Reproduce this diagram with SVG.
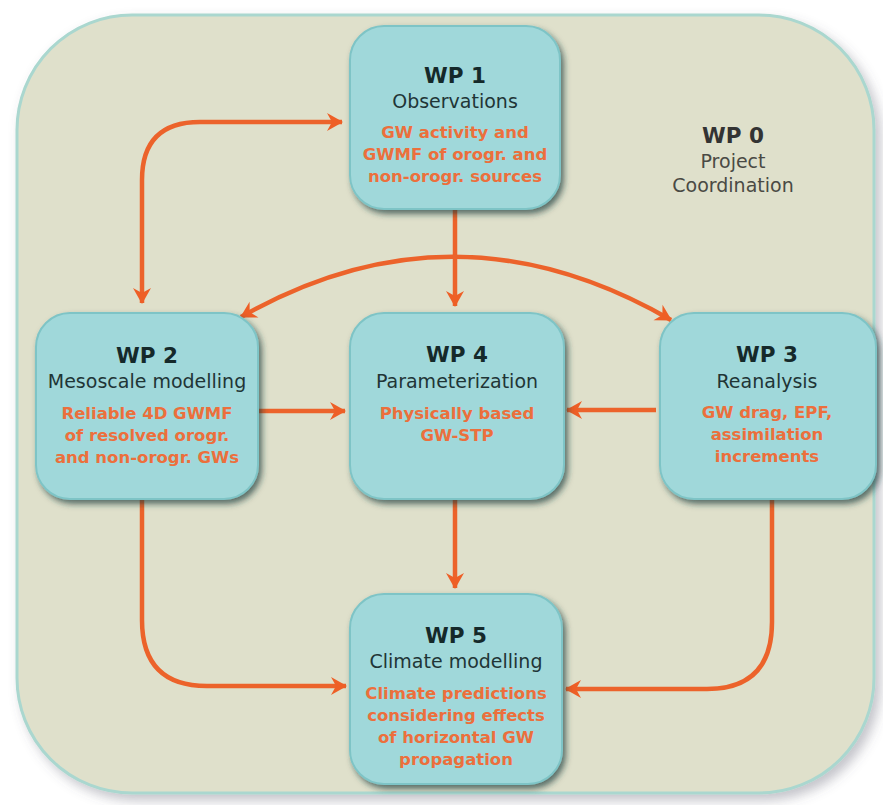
<svg xmlns="http://www.w3.org/2000/svg" width="883" height="805" viewBox="0 0 883 805">
<defs>
<filter id="sh" x="-10%" y="-10%" width="125%" height="125%">
<feDropShadow dx="3" dy="4" stdDeviation="3" flood-color="#1b3b3c" flood-opacity="0.7"/>
</filter>
<filter id="bgsh" x="-5%" y="-5%" width="112%" height="112%">
<feDropShadow dx="5" dy="6" stdDeviation="6" flood-color="#556" flood-opacity="0.35"/>
</filter>
<marker id="ah" viewBox="-16 -10 18 20" markerWidth="18" markerHeight="20" refX="0" refY="0" orient="auto-start-reverse" markerUnits="userSpaceOnUse">
<path d="M1 0 L-15 -9 L-10 0 L-15 9 Z" fill="#ee5f26"/>
</marker>
<style>
.box{fill:#a0d8da;stroke:#7ec4c6;stroke-width:2;filter:url(#sh)}
.t{font-family:"DejaVu Sans",sans-serif;text-anchor:middle}
.ti{font-size:21.5px;font-weight:bold;fill:#15292a}
.su{font-size:19px;fill:#1f3536}
.or{font-size:16.5px;font-weight:bold;fill:#ec6f3c}
.w0{font-size:21.5px;font-weight:bold;fill:#333}
.w0s{font-size:19px;fill:#4a4a44}
.c{fill:none;stroke:#ec632b;stroke-width:4.5;marker-end:url(#ah)}
.d{marker-start:url(#ah)}
</style>
</defs>
<rect x="0" y="0" width="883" height="805" fill="#ffffff"/>
<rect x="17" y="15" width="857" height="778" rx="115" fill="#dfe0cb" stroke="#aad7cf" stroke-width="3" filter="url(#bgsh)"/>
<g id="wp0" class="t">
<text x="733" y="143" class="w0">WP 0</text>
<text x="733" y="168" class="w0s">Project</text>
<text x="733" y="192" class="w0s">Coordination</text>
</g>
<g id="connectors">
<path class="c d" d="M342 122 L200 122 Q142 122 142 180 L142 303"/>
<path class="c" d="M455 208 L455 306"/>
<path class="c d" d="M241 317 Q455 195 671 320"/>
<path class="c" d="M257 411 L345 411"/>
<path class="c" d="M656 410 L567 410"/>
<path class="c" d="M455 500 L455 588"/>
<path class="c" d="M142 500 L142 620 Q142 686 207 686 L346 686"/>
<path class="c" d="M772 500 L772 622 Q772 689 707 689 L566 689"/>
</g>
<g id="wp1">
<rect class="box" x="350" y="26" width="210" height="183" rx="34"/>
<g class="t">
<text x="455" y="83" class="ti">WP 1</text>
<text x="455" y="108" class="su">Observations</text>
<text x="455" y="138" class="or">GW activity and</text>
<text x="455" y="160" class="or">GWMF of orogr. and</text>
<text x="455" y="182" class="or">non-orogr. sources</text>
</g>
</g>
<g id="wp2">
<rect class="box" x="36" y="313" width="222" height="186" rx="34"/>
<g class="t">
<text x="147" y="363" class="ti">WP 2</text>
<text x="147" y="388" class="su">Mesoscale modelling</text>
<text x="147" y="419" class="or">Reliable 4D GWMF</text>
<text x="147" y="441" class="or">of resolved orogr.</text>
<text x="147" y="463" class="or">and non-orogr. GWs</text>
</g>
</g>
<g id="wp4">
<rect class="box" x="350" y="313" width="214" height="186" rx="34"/>
<g class="t">
<text x="457" y="362" class="ti">WP 4</text>
<text x="457" y="388" class="su">Parameterization</text>
<text x="457" y="419" class="or">Physically based</text>
<text x="457" y="441" class="or">GW-STP</text>
</g>
</g>
<g id="wp3">
<rect class="box" x="660" y="313" width="216" height="186" rx="34"/>
<g class="t">
<text x="767" y="362" class="ti">WP 3</text>
<text x="767" y="388" class="su">Reanalysis</text>
<text x="767" y="418" class="or">GW drag, EPF,</text>
<text x="767" y="440" class="or">assimilation</text>
<text x="767" y="462" class="or">increments</text>
</g>
</g>
<g id="wp5">
<rect class="box" x="350" y="594" width="212" height="190" rx="34"/>
<g class="t">
<text x="456" y="643" class="ti">WP 5</text>
<text x="456" y="668" class="su">Climate modelling</text>
<text x="456" y="699" class="or">Climate predictions</text>
<text x="456" y="721" class="or">considering effects</text>
<text x="456" y="743" class="or">of horizontal GW</text>
<text x="456" y="765" class="or">propagation</text>
</g>
</g>
</svg>
